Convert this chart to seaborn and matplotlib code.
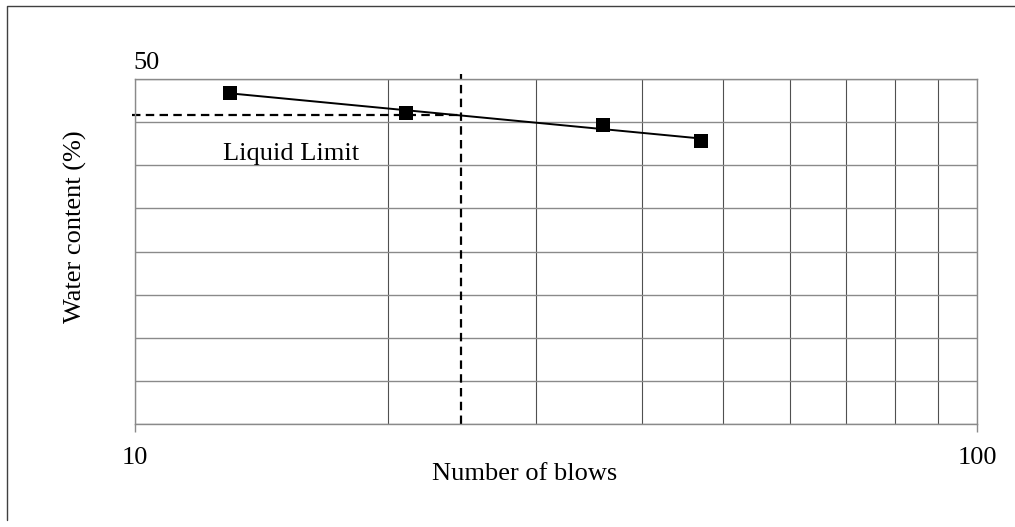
import numpy as np
import pandas as pd
import matplotlib
matplotlib.use("Agg")
import matplotlib.pyplot as plt
from matplotlib.lines import Line2D
from matplotlib.ticker import NullFormatter
import seaborn as sns

# Casagrande liquid limit test readings
blows = [13, 21, 36, 47]
water_content = [48.4, 46.1, 44.7, 42.8]
ll_blows = 24.4

y_ticks = [10, 15, 20, 25, 30, 35, 40, 45, 50]
x_tick_labels = ["10", "100"]

df = pd.DataFrame({"blows": blows, "water": water_content})

# Logarithmic trendline: w = a + b*log10(N)
b, a = np.polyfit(np.log10(df["blows"]), df["water"], 1)
trend = pd.DataFrame({"blows": [min(blows), max(blows)]})
trend["water"] = a + b * np.log10(trend["blows"])
liquid_limit = a + b * np.log10(ll_blows)

sns.set_theme(style="white")
plt.rcParams["font.family"] = ["Liberation Serif", "DejaVu Serif"]

fig = plt.figure(figsize=(10.15, 5.27), dpi=100)
ax = fig.add_axes([134.5 / 1015, 1 - 424 / 527, (977 - 134.5) / 1015, (424 - 79) / 527])

ax.set_xscale("log")
ax.set_xlim(10, 100)
ax.set_ylim(10, 50)
ax.set_yticks(y_ticks)
ax.set_xticks([10, 100])
ax.set_xticklabels(x_tick_labels)
ax.xaxis.set_minor_formatter(NullFormatter())
ax.set_yticklabels([])

grid_h = "#8a8a8a"
grid_v = "#505050"
ax.grid(True, which="major", axis="y", color=grid_h, linewidth=1.0)
ax.grid(True, which="both", axis="x", color=grid_v, linewidth=0.8)
ax.tick_params(axis="x", which="major", length=5.8, width=1.0, color=grid_h,
               pad=10.5, labelsize=19, labelcolor="black", bottom=True)
ax.tick_params(axis="x", which="minor", length=0)
ax.tick_params(axis="y", length=0)
for side in ["left", "bottom", "top", "right"]:
    ax.spines[side].set_color(grid_h)
    ax.spines[side].set_linewidth(1.0)
ax.set_axisbelow(True)

# Fitted line and test points
sns.lineplot(data=trend, x="blows", y="water", ax=ax, color="black",
             linewidth=1.4, zorder=3)
sns.scatterplot(data=df, x="blows", y="water", ax=ax, marker="s", s=90,
                color="black", linewidth=0, zorder=4)

# Liquid limit construction lines
dash = (3.8, 2.4)
ax.plot([-0.003, np.log10(ll_blows) - 1], [liquid_limit, liquid_limit],
        transform=ax.get_yaxis_transform(), color="black", linewidth=1.6,
        dashes=dash, clip_on=False, zorder=2)
ax.plot([ll_blows, ll_blows], [0, 1.015], transform=ax.get_xaxis_transform(),
        color="black", linewidth=1.6, dashes=dash, clip_on=False, zorder=2)

ax.set_xlabel("")
ax.set_ylabel("")

ax.annotate("50", xy=(0, 50), xycoords=("axes fraction", "data"),
            xytext=(8.3, 11.5), textcoords="offset points",
            ha="center", va="center", fontsize=19, color="black")

fig.text(222.7 / 1015, 1 - 160 / 527, "Liquid Limit", fontsize=19,
         ha="left", va="baseline", color="black")
fig.text(432 / 1015, 1 - 480 / 527, "Number of blows", fontsize=19,
         ha="left", va="baseline", color="black")
fig.text(75 / 1015, 1 - 227 / 527, "Water content (%)", fontsize=19,
         rotation=90, ha="center", va="center", color="black")

# Chart frame
fig.add_artist(Line2D([7 / 1015, 7 / 1015, 1.0], [1 - 520 / 527, 1 - 6 / 527, 1 - 6 / 527],
                      transform=fig.transFigure, color="#404040", linewidth=1.0))

fig.savefig("out.png", dpi=100)
